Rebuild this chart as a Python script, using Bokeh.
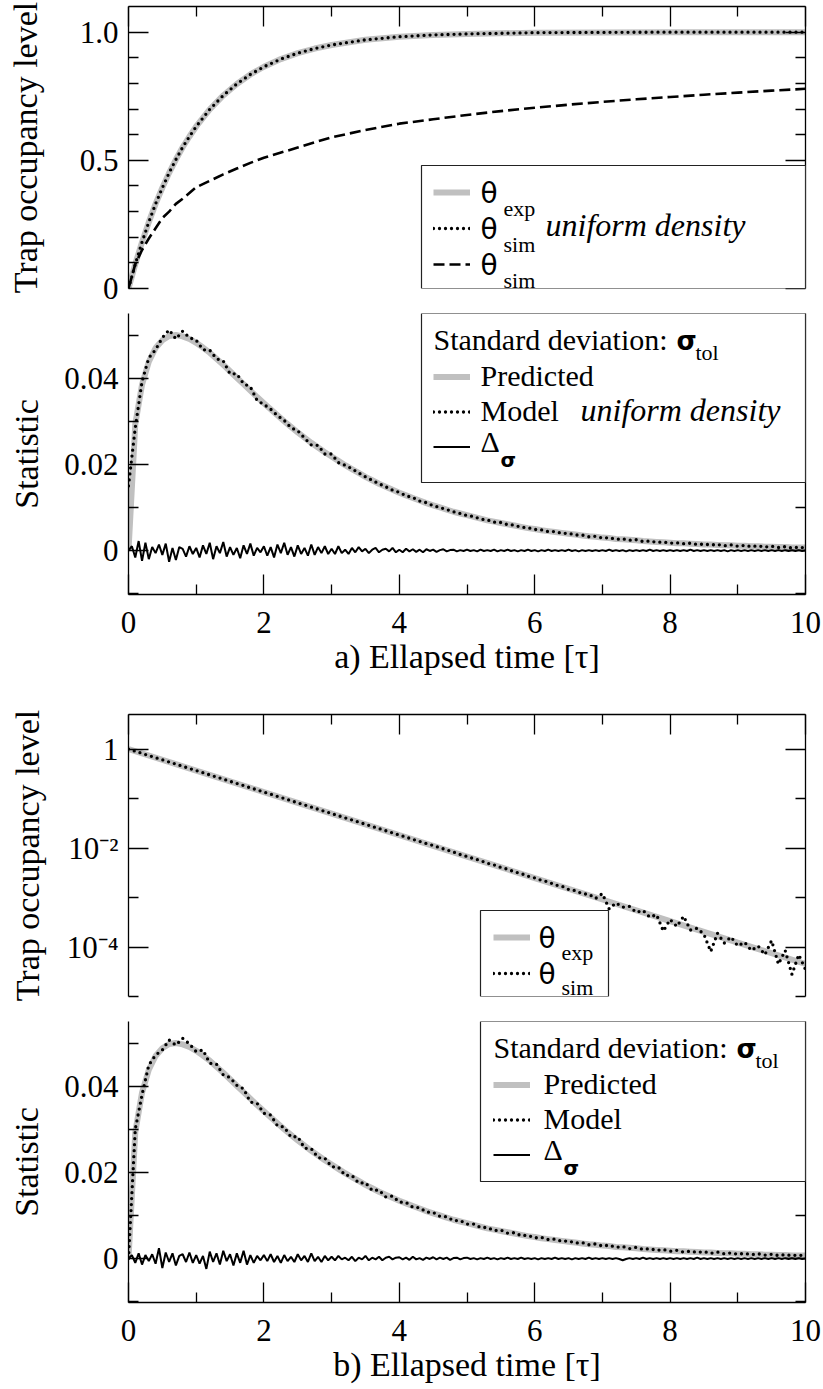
import numpy as np
from bokeh.plotting import figure
from bokeh.models import (Range1d, LinearAxis, LogAxis, FixedTicker, CustomJSTickFormatter,
                          Legend, LegendItem, Label, BoxAnnotation)
from bokeh.layouts import column
from bokeh.embed import file_html
from bokeh.resources import INLINE

SERIF = "Liberation Serif"
SANS = "DejaVu Sans"
GRAY = "#c0c0c0"

# ---------------- data ----------------
# panel a (top): trap occupancy
t_a = [0, 0.1, 0.2, 0.3, 0.4, 0.5, 0.6, 0.7, 0.8, 0.9, 1.0, 1.2, 1.4, 1.6, 1.8, 2.0,
       2.25, 2.5, 2.75, 3.0, 3.5, 4.0, 4.5, 5.0, 6.0, 7.0, 8.0, 9.0, 10.0]
theta_exp_a = [0, 0.095, 0.181, 0.259, 0.330, 0.393, 0.451, 0.503, 0.551, 0.593, 0.632, 0.699,
               0.753, 0.798, 0.835, 0.865, 0.895, 0.918, 0.936, 0.950, 0.970, 0.982, 0.989,
               0.993, 0.998, 0.999, 1.0, 1.0, 1.0]
theta_sim_uniform_a = [0, 0.095, 0.181, 0.259, 0.330, 0.393, 0.451, 0.503, 0.551, 0.593, 0.632,
                       0.699, 0.753, 0.798, 0.835, 0.865, 0.895, 0.918, 0.936, 0.950, 0.970,
                       0.982, 0.989, 0.993, 0.998, 0.999, 1.0, 1.0, 1.0]
t_sim_a = [0, 0.1, 0.2, 0.3, 0.4, 0.5, 0.6, 0.7, 0.8, 1.0, 1.2, 1.4, 1.6, 1.8, 2.0, 2.5, 3.0,
           3.5, 4.0, 4.5, 5.0, 5.5, 6.0, 6.5, 7.0, 7.5, 8.0, 8.5, 9.0, 9.5, 10.0]
theta_sim_a = [0, 0.095, 0.15, 0.195, 0.235, 0.275, 0.30, 0.33, 0.35, 0.395, 0.42, 0.445, 0.468,
               0.49, 0.51, 0.55, 0.59, 0.618, 0.643, 0.66, 0.677, 0.692, 0.705, 0.717, 0.728,
               0.738, 0.747, 0.756, 0.764, 0.772, 0.779]

# standard deviation series, sampled every 0.1 (values in units of 1e-4)
t_sigma = [round(0.1 * i, 1) for i in range(101)]
sigma_pred_1e4 = [0, 293, 385, 438, 470, 488, 498, 500, 497, 491,
                  482, 471, 459, 445, 431, 416, 401, 386, 371, 356,
                  342, 328, 314, 300, 287, 274, 262, 250, 239, 228,
                  218, 208, 198, 189, 180, 171, 163, 155, 148, 141,
                  134, 128, 122, 116, 110, 105, 100, 95, 90, 86,
                  82, 78, 74, 70, 67, 64, 61, 58, 55, 52,
                  50, 47, 45, 43, 41, 39, 37, 35, 33, 32,
                  30, 29, 27, 26, 25, 24, 22, 21, 20, 19,
                  18, 17, 17, 16, 15, 14, 14, 13, 12, 12,
                  11, 11, 10, 10, 9, 9, 8, 8, 7, 7,
                  7]
sigma_model_a_1e4 = [150, 285, 392, 447, 466, 494, 512, 491, 509, 494,
                     488, 466, 465, 445, 440, 410, 410, 387, 380, 348,
                     339, 328, 313, 302, 285, 278, 261, 245, 244, 224,
                     224, 204, 198, 190, 180, 171, 163, 155, 148, 140,
                     135, 127, 123, 115, 111, 104, 100, 95, 90, 86,
                     81, 79, 73, 71, 66, 65, 60, 59, 54, 53,
                     49, 48, 44, 44, 40, 40, 36, 36, 32, 33,
                     29, 30, 26, 27, 24, 25, 21, 22, 19, 20,
                     17, 18, 16, 17, 14, 15, 13, 14, 11, 13,
                     10, 12, 9, 11, 8, 10, 7, 9, 6, 8,
                     6]
sigma_model_b_1e4 = [0, 300, 380, 449, 472, 484, 507, 495, 511, 498,
                     480, 484, 453, 451, 426, 420, 402, 394, 363, 360,
                     337, 333, 308, 305, 282, 283, 256, 255, 234, 233,
                     213, 212, 193, 193, 175, 176, 158, 159, 143, 145,
                     131, 130, 119, 118, 108, 107, 98, 97, 88, 88,
                     80, 80, 72, 72, 65, 66, 59, 60, 53, 54,
                     48, 49, 44, 45, 40, 41, 36, 37, 32, 34,
                     29, 31, 26, 28, 23, 26, 21, 23, 19, 21,
                     17, 19, 15, 17, 14, 16, 12, 15, 11, 13,
                     10, 12, 9, 11, 8, 10, 7, 9, 7, 8,
                     6]

# difference Delta_sigma, sampled every 0.05 (units of 1e-4)
t_delta = [round(0.05 * i, 2) for i in range(201)]
delta_a_1e4 = [0, 10, -16, 22, -24, 18, -20, 8, -6, 14, -10, 16, -26, 6, -22, 8, 4, -14, 10, -8,
               6, -16, 12, -8, 18, -20, 10, -6, 20, -14, 8, -10, 6, -18, 12, -8, 16, -12, 6, -4,
               10, -12, 8, -16, 14, -6, 18, -10, 8, -14, 12, -8, 6, -12, 14, -10, 8, -6, 10, -8,
               4, -8, 10, -6, 2, -8, 6, -4, 8, -2, 4, -6, 2, 6, -4, 2, 4, -2, 6, -4,
               2, -4, 4, -2, 3, -3, 2, -4, 3, -1, 2, -3, 1, 3, -2, 1, 2, -2, 1, -1,
               2, -1, 1, -2, 2, -1, 1, -1, 2, -2, 1, -1, 2, -1, 1, -2, 1, -1, 2, -1,
               1, -2, 1, -1, 2, -1, 1, -1, 1, -1, 2, -1, 1, -2, 1, -1, 1, -1, 1, -1,
               1, -1, 2, -1, 1, -1, 1, -2, 1, -1, 1, -1, 1, -1, 2, -1, 1, -1, 1, -1,
               1, -1, 1, -1, 1, -1, 2, -1, 1, -1, 1, -1, 1, -1, 1, -1, 1, -2, 1, -1,
               1, -1, 1, -1, 1, -1, 1, -1, 1, -1, 1, -1, 1, -1, 1, -1, 1, -1, 1, -1,
               0]
delta_b_1e4 = [0, 8, -10, 12, -14, 8, -6, 10, -12, 24, -22, 14, -8, 12, -16, 6, 10, -8, 14, -10,
               8, -12, 6, -24, 16, -8, 12, -14, 18, -6, 10, -16, 12, -10, 18, -14, 8, -10, 6, -4,
               8, -6, 10, -8, 6, -10, 8, -6, 4, -8, 10, -4, 6, -8, 12, -6, 4, -8, 6, -4,
               4, -4, 6, -2, 2, -4, 4, -6, 2, -2, 6, -4, 2, -2, 4, -4, 2, 4, -2, 2,
               3, -2, 2, -3, 4, -2, 1, -3, 2, -1, 3, -2, 2, -1, 2, -3, 1, 2, -2, 1,
               2, -1, 1, -2, 1, -1, 2, -1, 1, -2, 1, -1, 2, -1, 1, -1, 2, -1, 1, -1,
               1, -2, 1, -1, 1, -1, 2, -1, 1, -1, 1, -2, 1, -1, 1, -1, 2, -1, 1, -1,
               1, -1, 1, -1, 1, -1, -4, -1, 1, -1, 1, -1, 2, -1, 1, -1, 1, -1, 1, -1,
               1, -1, 1, -1, 1, -1, 1, -1, 2, -1, 1, -1, 1, -1, 1, -1, 1, -1, 1, -1,
               1, -1, 1, -1, 1, -1, 1, -1, 1, -1, 1, -1, 1, -1, 1, -1, 1, -1, 1, -1,
               0]

# panel b (log): trap occupancy
t_exp_b = [0, 1, 2, 3, 4, 5, 6, 7, 8, 9, 10]
theta_exp_b = [1.0, 0.368, 0.135, 0.0498, 0.0183, 0.00674, 0.00248, 0.000912, 0.000335,
               0.000123, 0.0000454]
theta_sim_b = [1.0, 0.905, 0.819, 0.741, 0.670, 0.607, 0.549, 0.497, 0.449, 0.407,
               0.368, 0.333, 0.301, 0.273, 0.247, 0.223, 0.202, 0.183, 0.165, 0.150,
               0.135, 0.1225, 0.1108, 0.1003, 0.0907, 0.0821, 0.0743, 0.0672, 0.0608, 0.0550,
               0.0498, 0.0450, 0.0408, 0.0369, 0.0334, 0.0302, 0.0273, 0.0247, 0.0224, 0.0202,
               0.0183, 0.0166, 0.0150, 0.0136, 0.0123, 0.0113, 0.0101, 0.0092, 0.0083, 0.0074,
               0.00674, 0.00610, 0.00558, 0.00492, 0.00457, 0.00405, 0.00374, 0.00330, 0.00306, 0.00270,
               0.00250, 0.00222, 0.00208, 0.00180, 0.00170, 0.00146, 0.00138, 0.00120, 0.00116, 0.00096,
               0.00120, 0.00059, 0.00078, 0.00064, 0.00066, 0.00050, 0.00055, 0.00040, 0.00045, 0.00021,
               0.00036, 0.00026, 0.00042, 0.00022, 0.00024, 0.00018, 0.000081, 0.00019, 0.00012, 0.00016,
               0.000105, 0.000125, 0.000085, 0.000105, 0.00007, 0.000135, 0.000045, 0.000085, 0.000028, 0.00007,
               0.000035]

x_major = [0, 2, 4, 6, 8, 10]
x_minor = [1, 3, 5, 7, 9]
x_labels = {0: "0", 2: "2", 4: "4", 6: "6", 8: "8", 10: "10"}

# ---------------- helpers ----------------
def make_fig(frame_h, y_range, log=False, top_b=0, bottom_b=0):
    p = figure(frame_width=677, frame_height=frame_h, x_range=Range1d(0, 10), y_range=y_range,
               y_axis_type="log" if log else "linear", x_axis_location=None,
               y_axis_location=None, output_backend="svg", toolbar_location=None,
               min_border_left=128, min_border_right=18, min_border_top=top_b,
               min_border_bottom=bottom_b)
    p.outline_line_color = None
    p.background_fill_color = "white"
    p.border_fill_color = "white"
    for g in p.grid:
        g.visible = False
    return p


def add_axis(p, cls, side, ticks, minor, labels=None, title=None, standoff=10, lstand=10):
    ax = cls(ticker=FixedTicker(ticks=ticks, minor_ticks=minor))
    ax.axis_line_color = "black"
    ax.axis_line_width = 1.3
    ax.major_tick_in = 20
    ax.major_tick_out = 0
    ax.minor_tick_in = 10
    ax.minor_tick_out = 0
    ax.major_tick_line_color = "black"
    ax.major_tick_line_width = 1.3
    ax.minor_tick_line_color = "black"
    ax.minor_tick_line_width = 1.3
    if labels is None:
        ax.formatter = CustomJSTickFormatter(code="return ''")
        ax.major_label_text_font_size = "0px"
        ax.major_label_standoff = 0
    else:
        ax.major_label_overrides = labels
        ax.major_label_text_font = SERIF
        ax.major_label_text_font_size = "31px"
        ax.major_label_text_color = "black"
        ax.major_label_standoff = lstand
    if title is not None:
        ax.axis_label = title
        ax.axis_label_text_font = SERIF
        ax.axis_label_text_font_size = "34px"
        ax.axis_label_text_font_style = "normal"
        ax.axis_label_text_color = "black"
        ax.axis_label_standoff = standoff
    p.add_layout(ax, side)
    return ax


def add_box(p, left, right, bottom, top):
    p.add_layout(BoxAnnotation(left=left, right=right, bottom=bottom, top=top,
                               left_units="screen", right_units="screen",
                               bottom_units="screen", top_units="screen",
                               fill_color="white", fill_alpha=1.0,
                               line_color="#222222", line_alpha=1.0, line_width=1.2))


def add_keys(p, renderers, x, y, h):
    items = [LegendItem(label=" ", renderers=[r]) for r in renderers]
    lg = Legend(items=items, location=(x, y), orientation="vertical", padding=0, spacing=0,
                margin=0, glyph_width=37, glyph_height=h, label_width=1, label_height=h,
                label_standoff=0, label_text_font_size="1px",
                background_fill_alpha=0, border_line_alpha=0)
    p.add_layout(lg)


def txt(p, x, base, s, font=SERIF, size=30, style="normal"):
    # base: wanted baseline, in pixels up from the frame bottom
    k = 0.346 if font == SANS else 0.3375
    p.add_layout(Label(x=x, y=base + k * size, x_units="screen", y_units="screen", text=s,
                       text_font=font, text_font_size=f"{size}px", text_font_style=style,
                       text_color="black", text_baseline="middle", text_align="left"))


def theta_row(p, x, key_y, sub, sub_dy=23, extra=None, extra_dx=65):
    txt(p, x, key_y - 11, "θ", font=SANS, size=28)
    txt(p, x + 23, key_y - sub_dy, sub, size=22)
    if extra:
        txt(p, x + extra_dx, key_y - 7, extra, style="italic", size=32)


def sigma_panel(p, model, delta, italic, box_left, box_bottom, key_x, text_x):
    r_pred = p.line(t_sigma, [v * 1e-4 for v in sigma_pred_1e4], line_color=GRAY, line_width=6)
    r_model = p.line(t_sigma, [v * 1e-4 for v in model], line_color="black", line_width=3.3,
                     line_dash="0 6", line_cap="round")
    r_delta = p.line(t_delta, [v * 1e-4 for v in delta], line_color="black", line_width=2)
    add_box(p, box_left, 677, box_bottom, 281)
    keys = [218, 183, 148]
    add_keys(p, [r_pred, r_model, r_delta], key_x, keys[0] + 17.5 - 3 * 35, 35)
    txt(p, key_x, 244.5, "Standard deviation:")
    txt(p, key_x + 243, 244.5, "σ", font=SANS, size=26, style="bold")
    txt(p, key_x + 262, 234.5, "tol", size=22)
    txt(p, text_x, keys[0] - 9, "Predicted")
    txt(p, text_x, keys[1] - 9, "Model")
    if italic:
        txt(p, text_x + 100, keys[1] - 9, italic, style="italic", size=32)
    txt(p, text_x, keys[2] - 5, "Δ")
    txt(p, text_x + 20, keys[2] - 20, "σ", font=SANS, size=20, style="bold")


# ---------------- panel 1 ----------------
p1 = make_fig(282, Range1d(0, 1.1), top_b=6, bottom_b=19)
add_axis(p1, LinearAxis, "above", x_major, x_minor)
add_axis(p1, LinearAxis, "left", [0, 0.5, 1.0], [0.1, 0.2, 0.3, 0.4, 0.6, 0.7, 0.8, 0.9],
         labels={0: "0", 0.5: "0.5", 1.0: "1.0"}, title="Trap occupancy level", standoff=33)
add_axis(p1, LinearAxis, "right", [0, 0.5, 1.0], [0.1, 0.2, 0.3, 0.4, 0.6, 0.7, 0.8, 0.9])
r1 = p1.line(t_a, theta_exp_a, line_color=GRAY, line_width=6)
r2 = p1.line(t_a, theta_sim_uniform_a, line_color="black", line_width=3.3, line_dash="0 6",
             line_cap="round")
r3 = p1.line(t_sim_a, theta_sim_a, line_color="black", line_width=2.6, line_dash="11 5")
add_box(p1, 293, 677, 0, 123)
add_keys(p1, [r1, r2, r3], 305, 96 + 18 - 3 * 36, 36)
theta_row(p1, 352, 96, "exp")
theta_row(p1, 352, 60, "sim", extra="uniform density")
theta_row(p1, 352, 24, "sim")

# ---------------- panel 2 ----------------
p2 = make_fig(281, Range1d(-0.0102, 0.055), top_b=6, bottom_b=89)
add_axis(p2, LinearAxis, "below", x_major, x_minor, labels=x_labels,
         title="a) Ellapsed time [τ]", standoff=2, lstand=17)
add_axis(p2, LinearAxis, "left", [0, 0.02, 0.04], [-0.01, 0.01, 0.03, 0.05],
         labels={0: "0", 0.02: "0.02", 0.04: "0.04"}, title="Statistic", standoff=16)
add_axis(p2, LinearAxis, "right", [0, 0.02, 0.04], [-0.01, 0.01, 0.03, 0.05])
sigma_panel(p2, sigma_model_a_1e4, delta_a_1e4, "uniform density", 293, 112, 305, 352)

# ---------------- panel 3 ----------------
p3 = make_fig(282, Range1d(1e-5, 5), log=True, top_b=31, bottom_b=12)
add_axis(p3, LinearAxis, "above", x_major, x_minor)
add_axis(p3, LogAxis, "left", [1e-4, 1e-2, 1], [1e-5, 1e-3, 1e-1],
         labels={1: "1", 0.01: "10⁻²", 0.0001: "10⁻⁴"}, title="Trap occupancy level",
         standoff=18)
add_axis(p3, LogAxis, "right", [1e-4, 1e-2, 1], [1e-5, 1e-3, 1e-1])
r4 = p3.line(t_exp_b, theta_exp_b, line_color=GRAY, line_width=6)
r5 = p3.line(t_sigma, theta_sim_b, line_color="black", line_width=3.3, line_dash="0 6",
             line_cap="round")
add_box(p3, 352, 480, 0, 86)
add_keys(p3, [r4, r5], 365, 59 + 18 - 2 * 36, 36)
theta_row(p3, 410, 59, "exp", sub_dy=22)
theta_row(p3, 410, 23, "sim", sub_dy=21)

# ---------------- panel 4 ----------------
p4 = make_fig(281, Range1d(-0.0102, 0.055), top_b=13, bottom_b=87)
add_axis(p4, LinearAxis, "below", x_major, x_minor, labels=x_labels,
         title="b) Ellapsed time [τ]", standoff=2, lstand=17)
add_axis(p4, LinearAxis, "left", [0, 0.02, 0.04], [-0.01, 0.01, 0.03, 0.05],
         labels={0: "0", 0.02: "0.02", 0.04: "0.04"}, title="Statistic", standoff=16)
add_axis(p4, LinearAxis, "right", [0, 0.02, 0.04], [-0.01, 0.01, 0.03, 0.05])
sigma_panel(p4, sigma_model_b_1e4, delta_b_1e4, None, 352, 121, 365, 415)

layout = column(p1, p2, p3, p4, spacing=0)
open("out.html", "w").write(file_html(layout, INLINE, title="Trap occupancy"))
